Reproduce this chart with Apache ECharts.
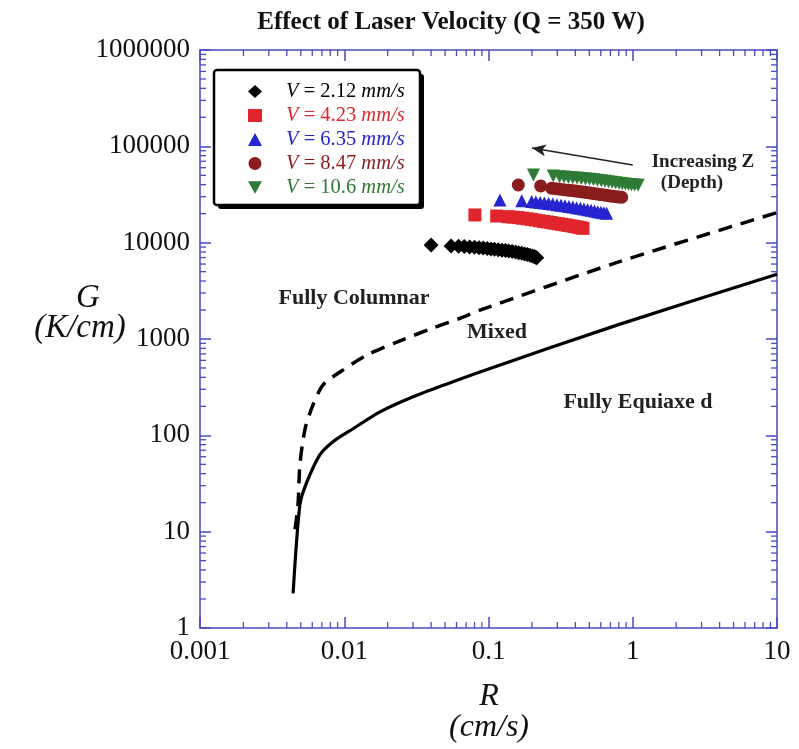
<!DOCTYPE html>
<html>
<head>
<meta charset="utf-8">
<script src="https://cdn.jsdelivr.net/npm/echarts@6/dist/echarts.min.js"></script>
<style>
  html, body { margin: 0; padding: 0; background: #ffffff; }
  #chart { width: 799px; height: 749px; }
</style>
</head>
<body>
<div id="chart"></div>
<script>
// Tick labels
const xTickLabels = ['0.001', '0.01', '0.1', '1', '10'];
const yTickLabels = ['1', '10', '100', '1000', '10000', '100000', '1000000'];

// Minor tick values (2..9 within each decade)
const xMinor = [0.002,0.003,0.004,0.005,0.006,0.007,0.008,0.009,
                0.02,0.03,0.04,0.05,0.06,0.07,0.08,0.09,
                0.2,0.3,0.4,0.5,0.6,0.7,0.8,0.9,
                2,3,4,5,6,7,8,9];
const yMinor = [2,3,4,5,6,7,8,9, 20,30,40,50,60,70,80,90,
                200,300,400,500,600,700,800,900,
                2000,3000,4000,5000,6000,7000,8000,9000,
                20000,30000,40000,50000,60000,70000,80000,90000,
                200000,300000,400000,500000,600000,700000,800000,900000];

// Columnar-to-mixed boundary (dashed) : R (cm/s), G (K/cm)
const cetR = [0.00456, 0.00478, 0.00493, 0.00535, 0.00607, 0.00713, 0.00935, 0.0144, 0.0232, 0.0393, 0.0665, 0.0873, 0.78, 10];
const cetG = [10.6, 19, 50, 117, 207, 334, 455, 682, 930, 1265, 1683, 1990, 6240, 20500];

// Mixed-to-equiaxed boundary (solid)
const eqR = [0.00442, 0.00493, 0.00552, 0.00679, 0.00836, 0.0115, 0.0177, 0.030, 0.0516, 0.0873, 0.778, 10];
const eqG = [2.29, 19.2, 33, 63, 86, 117, 175, 251, 342, 455, 1393, 4700];

// Solidification conditions along the melt pool, one list per laser velocity
const v212R = [0.040, 0.055, 0.062, 0.068, 0.074, 0.080, 0.086, 0.092, 0.098, 0.104, 0.110, 0.117, 0.124, 0.131, 0.138, 0.146, 0.154, 0.162, 0.170, 0.178, 0.186, 0.194, 0.201, 0.207, 0.212, 0.216];
const v212G = [9460, 9250, 9180, 9100, 9020, 8940, 8860, 8780, 8700, 8620, 8540, 8450, 8360, 8270, 8180, 8080, 7980, 7870, 7760, 7640, 7520, 7400, 7280, 7170, 7070, 6980];

const v423R = [0.0805, 0.114, 0.137, 0.148, 0.160, 0.172, 0.185, 0.198, 0.212, 0.226, 0.241, 0.256, 0.272, 0.288, 0.305, 0.322, 0.340, 0.358, 0.377, 0.396, 0.415, 0.434, 0.452];
const v423G = [19400, 18900, 18600, 18400, 18200, 17950, 17700, 17450, 17150, 16850, 16600, 16400, 16150, 15900, 15700, 15500, 15300, 15100, 14900, 14700, 14500, 14300, 14100];

const v635R = [0.120, 0.170, 0.199, 0.213, 0.228, 0.244, 0.261, 0.279, 0.298, 0.318, 0.339, 0.361, 0.384, 0.408, 0.433, 0.459, 0.486, 0.514, 0.543, 0.572, 0.601, 0.630, 0.659];
const v635G = [27700, 27300, 26700, 26400, 26100, 25800, 25500, 25150, 24800, 24450, 24100, 23750, 23400, 23050, 22700, 22350, 22000, 21650, 21300, 21000, 20700, 20450, 20200];

const v847R = [0.161, 0.230, 0.274, 0.293, 0.313, 0.334, 0.356, 0.379, 0.403, 0.428, 0.454, 0.481, 0.509, 0.538, 0.568, 0.599, 0.631, 0.664, 0.698, 0.732, 0.767, 0.802, 0.838];
const v847G = [39700, 38800, 36700, 36300, 35900, 35500, 35100, 34700, 34300, 33900, 33500, 33100, 32700, 32300, 31950, 31600, 31250, 30900, 30600, 30300, 30000, 29800, 29600];

const v106R = [0.205, 0.281, 0.311, 0.334, 0.358, 0.384, 0.411, 0.440, 0.470, 0.502, 0.535, 0.569, 0.605, 0.642, 0.680, 0.720, 0.761, 0.803, 0.846, 0.890, 0.935, 0.980, 1.03, 1.09];
const v106G = [50400, 49200, 48400, 48000, 47600, 47200, 46800, 46350, 45900, 45450, 45000, 44500, 44000, 43500, 43000, 42500, 42000, 41500, 41000, 40600, 40200, 39900, 39700, 39500];

// Arrow showing direction of increasing depth
const arrowFrom = [1.0, 64000];
const arrowTo = [0.2, 96000];

const pair = (xs, ys) => xs.map((x, i) => [x, ys[i]]);

const AXIS_BLUE = '#4a4ac4';
const SERIF = '"Liberation Serif", "DejaVu Serif", serif';

const chart = echarts.init(document.getElementById('chart'), null, { renderer: 'canvas' });

function scatterSeries(name, xs, ys, symbol, color, size) {
  return {
    name: name,
    type: 'scatter',
    data: pair(xs, ys),
    symbol: symbol,
    symbolSize: size,
    itemStyle: { color: color, opacity: 1 },
    z: 5
  };
}

const legendColors = ['#000000', '#e0262c', '#2424d0', '#8a1c1c', '#2f7a34'];
const legendNames = ['2.12', '4.23', '6.35', '8.47', '10.6'];

function minorTickSeries(values, axis) {
  return {
    type: 'custom',
    silent: true,
    data: values.map(v => [v]),
    renderItem: function (params, api) {
      const cs = params.coordSys;
      const v = api.value(0);
      const len = 6;
      const style = { stroke: AXIS_BLUE, lineWidth: 1.3 };
      if (axis === 'x') {
        const px = api.coord([v, 1])[0];
        return { type: 'group', children: [
          { type: 'line', shape: { x1: px, y1: cs.y + cs.height, x2: px, y2: cs.y + cs.height - len }, style: style },
          { type: 'line', shape: { x1: px, y1: cs.y, x2: px, y2: cs.y + len }, style: style }
        ]};
      }
      const py = api.coord([1, v])[1];
      return { type: 'group', children: [
        { type: 'line', shape: { x1: cs.x, y1: py, x2: cs.x + len, y2: py }, style: style },
        { type: 'line', shape: { x1: cs.x + cs.width, y1: py, x2: cs.x + cs.width - len, y2: py }, style: style }
      ]};
    },
    z: 3
  };
}

const baseX = {
  type: 'log', logBase: 10, min: 0.001, max: 10, splitNumber: 4,
  axisLine: { show: true, lineStyle: { color: AXIS_BLUE, width: 1.5 } },
  axisTick: { show: true, inside: true, length: 11, lineStyle: { color: AXIS_BLUE, width: 1.5 } },
  splitLine: { show: false },
  minorTick: { show: false }
};
const baseY = {
  type: 'log', logBase: 10, min: 1, max: 1000000, splitNumber: 6,
  axisLine: { show: true, lineStyle: { color: AXIS_BLUE, width: 1.5 } },
  axisTick: { show: true, inside: true, length: 11, lineStyle: { color: AXIS_BLUE, width: 1.5 } },
  splitLine: { show: false },
  minorTick: { show: false }
};

const option = {
  animation: false,
  backgroundColor: '#ffffff',
  title: {
    text: 'Effect of Laser Velocity (Q = 350 W)',
    left: 446, top: 5, textAlign: 'center',
    textStyle: { fontFamily: SERIF, fontWeight: 'bold', fontSize: 25, color: '#111' }
  },
  grid: { left: 200, right: 22, top: 50, bottom: 121, containLabel: false },
  xAxis: [
    Object.assign({}, baseX, {
      position: 'bottom',
      axisLabel: {
        show: true, margin: 10, color: '#111', fontFamily: SERIF, fontSize: 27,
        formatter: function (v) { return xTickLabels[Math.round(Math.log10(v)) + 3]; }
      }
    }),
    Object.assign({}, baseX, { position: 'top', axisLabel: { show: false } })
  ],
  yAxis: [
    Object.assign({}, baseY, {
      position: 'left',
      axisLabel: {
        show: true, margin: 10, color: '#111', fontFamily: SERIF, fontSize: 27,
        formatter: function (v) { return yTickLabels[Math.round(Math.log10(v))]; }
      }
    }),
    Object.assign({}, baseY, { position: 'right', axisLabel: { show: false } })
  ],
  legend: {
    orient: 'vertical',
    left: 214, top: 70,
    padding: [11, 16, 11, 34],
    itemWidth: 14, itemHeight: 13, itemGap: 3,
    backgroundColor: 'transparent',
    borderWidth: 0,
    z: 10,
    data: legendNames.map((n, i) => ({
      name: n,
      textStyle: {
        color: legendColors[i], fontFamily: SERIF, fontSize: 20, lineHeight: 20,
        rich: {
          s: { width: 19 },
          i: { fontStyle: 'italic', color: legendColors[i], fontFamily: SERIF, fontSize: 20.5, lineHeight: 20 },
          n: { color: legendColors[i], fontFamily: SERIF, fontSize: 20.5, lineHeight: 20 }
        }
      }
    })),
    formatter: function (name) { return '{s|}{i|V}{n| = ' + name + ' }{i|mm/s}'; }
  },
  series: [
    minorTickSeries(xMinor, 'x'),
    minorTickSeries(yMinor, 'y'),
    {
      name: 'cet', type: 'line', data: pair(cetR, cetG), symbol: 'none', smooth: 0.25,
      lineStyle: { color: '#000', width: 3.5, type: [14, 9] }, z: 4
    },
    {
      name: 'eq', type: 'line', data: pair(eqR, eqG), symbol: 'none', smooth: 0.25,
      lineStyle: { color: '#000', width: 3.2 }, z: 4,
      markLine: {
        silent: true,
        symbol: ['none', 'arrow'], symbolSize: [9, 14],
        lineStyle: { color: '#222', width: 1.5, type: 'solid' },
        label: { show: false },
        data: [[{ coord: arrowFrom }, { coord: arrowTo }]]
      }
    },
    scatterSeries('2.12', v212R, v212G, 'diamond', legendColors[0], 15),
    scatterSeries('4.23', v423R, v423G, 'rect', legendColors[1], 13),
    scatterSeries('6.35', v635R, v635G, 'triangle', legendColors[2], 13),
    scatterSeries('8.47', v847R, v847G, 'circle', legendColors[3], 13),
    scatterSeries('10.6', v106R, v106G, 'path://M0,0 L10,0 L5,9 Z', legendColors[4], 13)
  ],
  graphic: [
    // legend frame with drop shadow
    { type: 'rect', z: 5, shape: { x: 218, y: 74, width: 206, height: 135, r: 3 }, style: { fill: '#000' } },
    { type: 'rect', z: 6, shape: { x: 214, y: 70, width: 206, height: 135, r: 3 }, style: { fill: '#fff', stroke: '#000', lineWidth: 2.5 } },
    { type: 'text', x: 489, y: 697, style: { text: 'R', font: 'italic 32px ' + SERIF, fill: '#111', align: 'center', verticalAlign: 'middle' } },
    { type: 'text', x: 489, y: 728, style: { text: '(cm/s)', font: 'italic 32px ' + SERIF, fill: '#111', align: 'center', verticalAlign: 'middle' } },
    { type: 'text', x: 88, y: 298, style: { text: 'G', font: 'italic 33px ' + SERIF, fill: '#111', align: 'center', verticalAlign: 'middle' } },
    { type: 'text', x: 80, y: 328, style: { text: '(K/cm)', font: 'italic 33px ' + SERIF, fill: '#111', align: 'center', verticalAlign: 'middle' } },
    { type: 'text', x: 354, y: 298, style: { text: 'Fully Columnar', font: 'bold 22px ' + SERIF, fill: '#222', align: 'center', verticalAlign: 'middle' } },
    { type: 'text', x: 497, y: 332, style: { text: 'Mixed', font: 'bold 22px ' + SERIF, fill: '#222', align: 'center', verticalAlign: 'middle' } },
    { type: 'text', x: 638, y: 402, style: { text: 'Fully Equiaxe d', font: 'bold 22px ' + SERIF, fill: '#222', align: 'center', verticalAlign: 'middle' } },
    { type: 'text', x: 703, y: 162, style: { text: 'Increasing Z', font: 'bold 19px ' + SERIF, fill: '#222', align: 'center', verticalAlign: 'middle' } },
    { type: 'text', x: 692, y: 183, style: { text: '(Depth)', font: 'bold 19px ' + SERIF, fill: '#222', align: 'center', verticalAlign: 'middle' } }
  ]
};

chart.setOption(option);
</script>
</body>
</html>
